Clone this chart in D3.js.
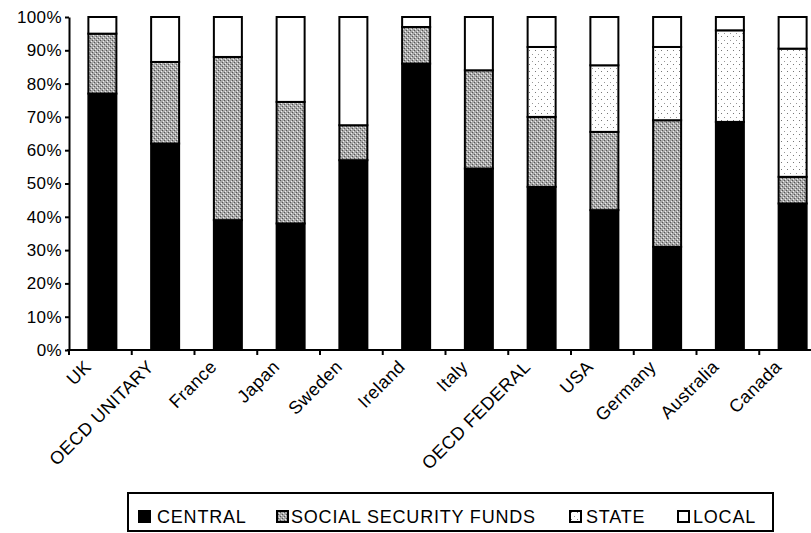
<!DOCTYPE html>
<html>
<head>
<meta charset="utf-8">
<script src="https://cdn.jsdelivr.net/npm/d3@7"></script>
<style>
  body { margin: 0; background: #fff; }
  svg { display: block; font-family: "Liberation Sans", Arial, sans-serif; }
</style>
</head>
<body>
<svg id="chart" width="811" height="533"></svg>
<script>
// data (percent of total)
var categories = ["UK", "OECD UNITARY", "France", "Japan", "Sweden", "Ireland",
                  "Italy", "OECD FEDERAL", "USA", "Germany", "Australia", "Canada"];
var central = [77, 62, 39, 38, 57, 86, 54.5, 49, 42, 31, 68.5, 44];
var social  = [18, 24.5, 49, 36.5, 10.5, 11, 29.5, 21, 23.5, 38, 0, 8];
var state   = [0, 0, 0, 0, 0, 0, 0, 21, 20, 22, 27.5, 38.5];
var local   = [5, 13.5, 12, 25.5, 32.5, 3, 16, 9, 14.5, 9, 4, 9.5];
var seriesNames = ["CENTRAL", "SOCIAL SECURITY FUNDS", "STATE", "LOCAL"];
var yTicks = [0, 10, 20, 30, 40, 50, 60, 70, 80, 90, 100];

var LEFT = 69, TOP = 17, BOTTOM = 350, RIGHT = 822, BAR_W = 28;
var FILLS = ["#000", "url(#ss-pat)", "url(#state-pat)", "#fff"];

var svg = d3.select("#chart");

//patterns for the scanned-looking fills
var defs = svg.append("defs");
var ss = defs.append("pattern")
    .attr("id", "ss-pat")
    .attr("patternUnits", "userSpaceOnUse")
    .attr("width", 4).attr("height", 4);
ss.append("rect").attr("width", 4).attr("height", 4).style("fill", "#a8a8a8");
ss.append("rect").attr("x", 0).attr("y", 0).attr("width", 1).attr("height", 1).style("fill", "#555");
ss.append("rect").attr("x", 2).attr("y", 2).attr("width", 1).attr("height", 1).style("fill", "#555");
ss.append("rect").attr("x", 1).attr("y", 3).attr("width", 1).attr("height", 1).style("fill", "#eee");
ss.append("rect").attr("x", 3).attr("y", 1).attr("width", 1).attr("height", 1).style("fill", "#eee");

var st = defs.append("pattern")
    .attr("id", "state-pat")
    .attr("patternUnits", "userSpaceOnUse")
    .attr("width", 6).attr("height", 7);
st.append("rect").attr("width", 6).attr("height", 7).style("fill", "#fff");
st.append("rect").attr("x", 1).attr("y", 1).attr("width", 1).attr("height", 1).style("fill", "#777");
st.append("rect").attr("x", 4).attr("y", 5).attr("width", 1).attr("height", 1).style("fill", "#999");

//scales
var x = d3.scaleBand().domain(categories).range([LEFT, RIGHT]).padding(0);
var y = d3.scaleLinear().domain([0, 100]).range([BOTTOM, TOP]);

//stack the four series
var rows = categories.map(function (c, i) {
    return { cat: c, CENTRAL: central[i], "SOCIAL SECURITY FUNDS": social[i], STATE: state[i], LOCAL: local[i] };
});
var stacked = d3.stack().keys(seriesNames)(rows);

//draw bars
stacked.forEach(function (layer, k) {
    svg.append("g")
        .attr("class", "layer-" + k)
        .selectAll("rect")
        .data(layer.filter(function (d) { return d[1] - d[0] > 0; }))
        .enter().append("rect")
        .attr("x", function (d) { return x(d.data.cat) + (x.bandwidth() - BAR_W) / 2 + 2; })
        .attr("width", BAR_W)
        .attr("y", function (d) { return y(d[1]); })
        .attr("height", function (d) { return y(d[0]) - y(d[1]); })
        .style("fill", FILLS[k])
        .style("stroke", "#000")
        .style("stroke-width", 2);
});

//y axis
var yAxis = svg.append("g")
    .attr("transform", "translate(" + LEFT + ",0)")
    .call(d3.axisLeft(y).tickValues(yTicks).tickSize(4).tickSizeOuter(0)
        .tickFormat(function (d) { return d + "%"; }));
yAxis.select(".domain").style("stroke-width", 2);
yAxis.selectAll(".tick line").style("stroke-width", 2);
yAxis.selectAll("text")
    .attr("x", -7)
    .style("font-size", "17px")
    .style("letter-spacing", "0.4px")
    .style("fill", "#000");

//x axis line and ticks between categories
svg.append("line")
    .attr("x1", LEFT - 2).attr("x2", 811)
    .attr("y1", BOTTOM).attr("y2", BOTTOM)
    .style("stroke", "#000").style("stroke-width", 2);
svg.selectAll(".xtick")
    .data(categories)
    .enter().append("line")
    .attr("class", "xtick")
    .attr("x1", function (d) { return x(d); })
    .attr("x2", function (d) { return x(d); })
    .attr("y1", BOTTOM).attr("y2", BOTTOM + 5)
    .style("stroke", "#000").style("stroke-width", 2);

//rotated category labels
svg.selectAll(".xlabel")
    .data(categories)
    .enter().append("text")
    .attr("class", "xlabel")
    .attr("transform", function (d) {
        return "translate(" + (x(d) + x.bandwidth() / 2 - 8) + "," + (BOTTOM + 18) + ") rotate(-45)";
    })
    .style("text-anchor", "end")
    .style("font-size", "18px")
    .style("letter-spacing", "0.4px")
    .text(function (d) { return d; });

//legend
var legend = svg.append("g").attr("class", "legend");
legend.append("rect")
    .attr("x", 128).attr("y", 493)
    .attr("width", 645).attr("height", 38)
    .style("fill", "#fff").style("stroke", "#000").style("stroke-width", 2);
var swatchX = [139, 277, 570, 678];
var labelX = [157, 291, 586, 693];
seriesNames.forEach(function (name, k) {
    legend.append("rect")
        .attr("x", swatchX[k]).attr("y", 511)
        .attr("width", 11).attr("height", 11)
        .style("fill", FILLS[k])
        .style("stroke", "#000").style("stroke-width", 2);
    legend.append("text")
        .attr("x", labelX[k]).attr("y", 523)
        .style("font-size", "18px")
        .style("letter-spacing", "0.8px")
        .text(name);
});
</script>
</body>
</html>
